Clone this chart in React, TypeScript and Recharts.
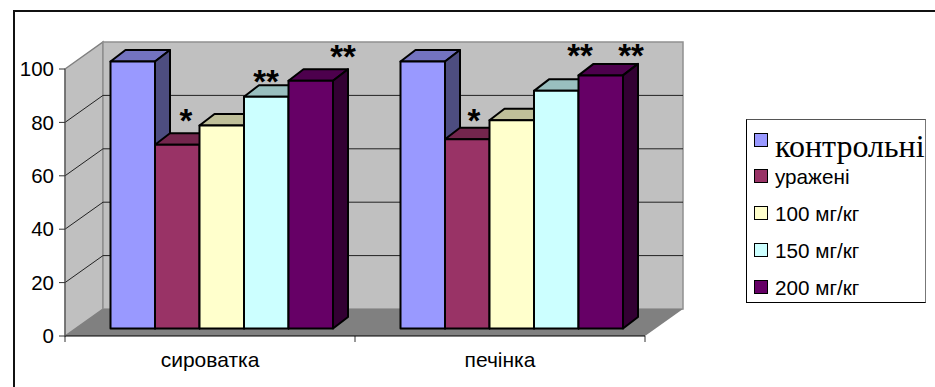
import { Bar, BarChart, Legend, XAxis, YAxis, usePlotArea } from "recharts";

const categories = ["сироватка", "печінка"];
const kontrolni = [100, 100];
const urazheni = [68.8, 70.9];
const dose100 = [76, 78];
const dose150 = [86.8, 89];
const dose200 = [92.8, 94.8];
const yTicks = [0, 20, 40, 60, 80, 100];
const yMax = 100;

const seriesNames = ["контрольні", "уражені", "100 мг/кг", "150 мг/кг", "200 мг/кг"];
const seriesKeys = ["s0", "s1", "s2", "s3", "s4"];
const seriesValues = [kontrolni, urazheni, dose100, dose150, dose200];
const seriesFills = ["#9999FF", "#993366", "#FFFFCC", "#CCFFFF", "#660066"];
const topFills = ["#7373BF", "#73264D", "#BFBF99", "#99BFBF", "#4D004D"];
const sideFills = ["#4D4D80", "#4D1933", "#808066", "#668080", "#330033"];

const data = categories.map((category, i) => {
  const row: Record<string, string | number> = { category };
  seriesKeys.forEach((key, s) => {
    row[key] = seriesValues[s][i];
  });
  return row;
});

const SANS = '"Liberation Sans", Arial, sans-serif';
const SERIF = '"Liberation Serif", "Times New Roman", serif';

// chart box depth: back wall offset from the front axis plane
const DEPTH_X = 38;
const DEPTH_Y = -27;
// bars sit part way into the box
const BAR_SHIFT_X = 11.5;
const BAR_SHIFT_Y = -7.5;
const BAR_DEPTH_X = 15;
const BAR_DEPTH_Y = -11.5;

// side wall, back wall, floor and the grid lines bent across the two walls
function Walls() {
  const plot = usePlotArea();
  if (!plot) return null;
  const left = plot.x;
  const right = plot.x + plot.width;
  const top = plot.y;
  const bottom = plot.y + plot.height;
  const gridTicks = yTicks.filter((t) => t > 0 && t < yMax);
  // category axis ticks fall between the groups, not under them
  const boundaries = [0, ...categories.map((_, i) => i + 1)].map(
    (i) => left + (plot.width * i) / categories.length,
  );
  return (
    <g>
      <polygon
        points={`${left},${top} ${left + DEPTH_X},${top + DEPTH_Y} ${left + DEPTH_X},${bottom + DEPTH_Y} ${left},${bottom}`}
        fill="#C0C0C0"
        stroke="#808080"
        strokeWidth={1.5}
      />
      <rect
        x={left + DEPTH_X}
        y={top + DEPTH_Y}
        width={plot.width}
        height={plot.height}
        fill="#C0C0C0"
        stroke="#909090"
        strokeWidth={1.5}
      />
      <polygon
        points={`${left},${bottom} ${left + DEPTH_X},${bottom + DEPTH_Y} ${right + DEPTH_X},${bottom + DEPTH_Y} ${right},${bottom}`}
        fill="#808080"
      />
      {gridTicks.map((t) => {
        const y = top + plot.height * (1 - t / yMax);
        return (
          <polyline
            key={t}
            points={`${left},${y} ${left + DEPTH_X},${y + DEPTH_Y} ${right + DEPTH_X},${y + DEPTH_Y}`}
            fill="none"
            stroke="#222"
            strokeWidth={1}
          />
        );
      })}
      {boundaries.map((x) => (
        <line key={x} x1={x} x2={x} y1={bottom} y2={bottom + 6} stroke="#333" strokeWidth={1} />
      ))}
    </g>
  );
}

function Bar3D(props: any) {
  const { x, y, width, height, seriesIndex } = props;
  const fx = x + BAR_SHIFT_X;
  const fy = y + BAR_SHIFT_Y;
  const dx = BAR_DEPTH_X;
  const dy = BAR_DEPTH_Y;
  const line = { stroke: "#000", strokeWidth: 2, strokeLinejoin: "round" as const };
  return (
    <g>
      <polygon
        points={`${fx},${fy} ${fx + dx},${fy + dy} ${fx + width + dx},${fy + dy} ${fx + width},${fy}`}
        fill={topFills[seriesIndex]}
        {...line}
      />
      <polygon
        points={`${fx + width},${fy} ${fx + width + dx},${fy + dy} ${fx + width + dx},${fy + height + dy} ${fx + width},${fy + height}`}
        fill={sideFills[seriesIndex]}
        {...line}
      />
      <rect x={fx} y={fy} width={width} height={height} fill={seriesFills[seriesIndex]} {...line} />
    </g>
  );
}

const starMarks = [
  { text: "*", x: 186, y: 132 },
  { text: "**", x: 266, y: 93 },
  { text: "**", x: 343, y: 68 },
  { text: "*", x: 474, y: 132 },
  { text: "**", x: 580, y: 67 },
  { text: "**", x: 631, y: 67 },
];

function Stars() {
  return (
    <g>
      {starMarks.map((m, i) => (
        <text
          key={i}
          x={m.x}
          y={m.y}
          textAnchor="middle"
          fontFamily={SANS}
          fontWeight="bold"
          fontSize={33}
          fill="#000"
        >
          {m.text}
        </text>
      ))}
    </g>
  );
}

function LegendBox() {
  return (
    <div
      style={{
        boxSizing: "border-box",
        width: 180,
        height: 184,
        border: "1px solid #000",
        borderTopColor: "#555",
        borderRightColor: "#777",
        background: "#fff",
        position: "relative",
      }}
    >
      {seriesNames.map((name, i) => (
        <div key={name} style={{ position: "absolute", left: 7, top: 12.5 + i * 36.8, height: 18 }}>
          <div
            style={{
              position: "absolute",
              left: 0,
              top: 0,
              width: 14,
              height: 14,
              boxSizing: "border-box",
              border: "1.5px solid #000",
              background: seriesFills[i],
            }}
          />
          <span
            style={{
              position: "absolute",
              left: 21,
              top: i === 0 ? -3 : -4,
              whiteSpace: "nowrap",
              fontFamily: i === 0 ? SERIF : SANS,
              fontSize: i === 0 ? 32 : 20.7,
              lineHeight: i === 0 ? "32px" : "24px",
              color: "#000",
            }}
          >
            {name}
          </span>
        </div>
      ))}
    </div>
  );
}

export default function App() {
  return (
    <div style={{ position: "absolute", left: 0, top: 0, width: 935, height: 387, background: "#fff", overflow: "hidden" }}>
      <div style={{ position: "absolute", left: 13, top: 10, width: 922, height: 377, borderLeft: "2px solid #111", borderTop: "2px solid #111", boxSizing: "border-box" }} />
      <BarChart
        width={935}
        height={387}
        data={data}
        margin={{ top: 69, right: 290, bottom: 0, left: 5 }}
        barGap={0}
        barSize={44.5}
        style={{ position: "absolute", left: 0, top: 0 }}
      >
        <Walls />
        <XAxis
          dataKey="category"
          stroke="#000"
          tickLine={false}
          tickSize={6}
          tick={{ fill: "#000", fontFamily: SANS, fontSize: 21 }}
          tickMargin={10}
          height={51}
        />
        <YAxis
          domain={[0, yMax]}
          ticks={yTicks}
          width={60}
          stroke="#555"
          tickLine={{ stroke: "#333" }}
          tickSize={6}
          tick={{ fill: "#000", fontFamily: SANS, fontSize: 20.5 }}
          tickMargin={5}
          interval={0}
        />
        <Legend
          layout="vertical"
          align="center"
          verticalAlign="middle"
          content={<LegendBox />}
          wrapperStyle={{ position: "absolute", left: 746, top: 119, width: 180, height: 184 }}
        />
        {seriesKeys.map((key, s) => (
          <Bar
            key={key}
            dataKey={key}
            name={seriesNames[s]}
            fill={seriesFills[s]}
            isAnimationActive={false}
            shape={(p: any) => <Bar3D {...p} seriesIndex={s} />}
          />
        ))}
        <Stars />
      </BarChart>
    </div>
  );
}
